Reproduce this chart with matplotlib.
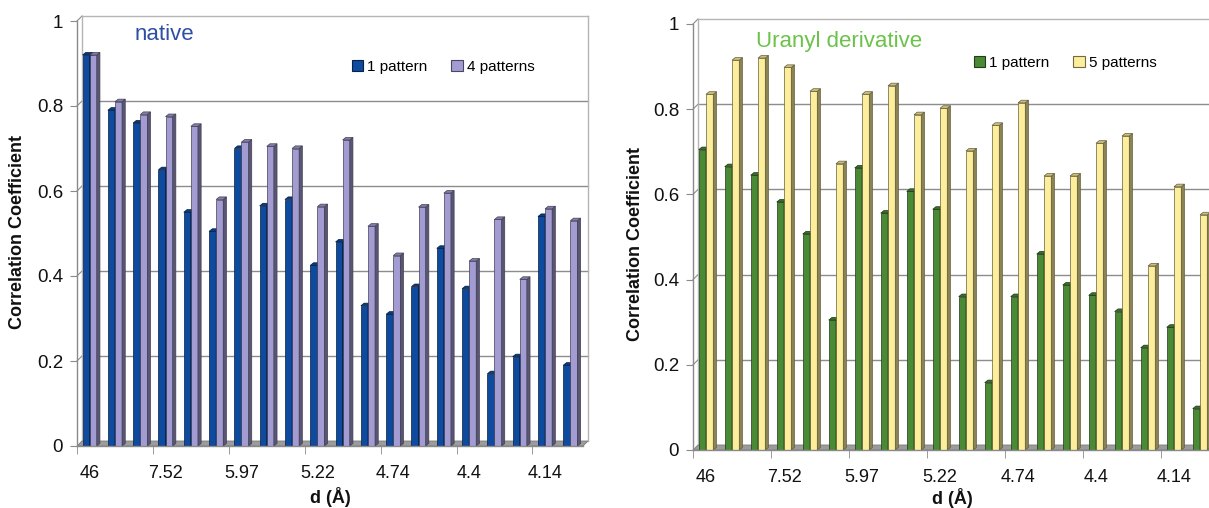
import matplotlib
matplotlib.use("Agg")
import matplotlib.pyplot as plt
from matplotlib.patches import Polygon, Patch

plt.rcParams['font.family'] = ['Liberation Sans', 'DejaVu Sans']

# ---------------- data ----------------
tick_labels = ["46", "7.52", "5.97", "5.22", "4.74", "4.4", "4.14"]
n_cat = 20

native_1 = [0.92, 0.79, 0.76, 0.65, 0.55, 0.505, 0.70, 0.565, 0.58, 0.425,
            0.48, 0.33, 0.31, 0.375, 0.465, 0.37, 0.17, 0.21, 0.54, 0.19]
native_4 = [0.92, 0.81, 0.78, 0.775, 0.752, 0.58, 0.715, 0.705, 0.70, 0.563,
            0.72, 0.517, 0.448, 0.562, 0.595, 0.435, 0.533, 0.392, 0.558, 0.53]

uranyl_1 = [0.705, 0.665, 0.645, 0.582, 0.507, 0.305, 0.662, 0.556, 0.607, 0.565,
            0.36, 0.158, 0.36, 0.46, 0.387, 0.363, 0.325, 0.24, 0.288, 0.097]
uranyl_5 = [0.835, 0.915, 0.92, 0.898, 0.842, 0.672, 0.835, 0.855, 0.787, 0.802,
            0.702, 0.762, 0.815, 0.643, 0.643, 0.72, 0.737, 0.432, 0.618, 0.552]

W, H = 1209, 508
fig = plt.figure(figsize=(W / 100, H / 100), dpi=100)
fig.patch.set_facecolor('white')


def shade(c, f):
    import matplotlib.colors as mc
    r, g, b = mc.to_rgb(c)
    if f < 1:
        return (r * f, g * f, b * f)
    f = f - 1
    return (r + (1 - r) * f, g + (1 - g) * f, b + (1 - b) * f)


def panel(px_left, px_zero, px_cat, px_unit, s1, s2, colors, names,
          title, title_col, title_xy, leg_xy, ylab_xy, xlab_xy, right_frame=True):
    width_px = px_cat * n_cat
    ax = fig.add_axes([px_left / W, (H - px_zero) / H, width_px / W, px_unit / H])
    ax.set_xlim(-0.5, n_cat - 0.5)
    ax.set_ylim(0, 1)
    ax.patch.set_alpha(0)
    for s in ['top', 'right']:
        ax.spines[s].set_visible(False)
    ax.spines['left'].set_color('#8a8a8a')
    ax.spines['bottom'].set_color('#8a8a8a')
    ax.spines['left'].set_linewidth(1.0)
    ax.spines['bottom'].set_linewidth(1.0)

    # depth offsets (data units)
    wdx, wdy = 5 / px_cat, 5 / px_unit      # wall depth
    bdx, bdy = 3.2 / px_cat, 2.6 / px_unit  # bar depth
    x0, x1 = -0.5, n_cat - 0.5

    # back wall grid and frame
    for yv in [0.2, 0.4, 0.6, 0.8]:
        ax.plot([x0 + wdx, x1 + wdx], [yv + wdy, yv + wdy], color='#8c8c8c', lw=1.0,
                clip_on=False, zorder=0.5)
    for yv in [0.2, 0.4, 0.6, 0.8, 1.0]:
        ax.plot([x0, x0 + wdx], [yv, yv + wdy], color='#8c8c8c', lw=0.8,
                clip_on=False, zorder=0.5)
    ax.plot([x0 + wdx, x1 + wdx], [1 + wdy, 1 + wdy], color='#b5b5b5', lw=1.0,
            clip_on=False, zorder=0.5)
    ax.plot([x0 + wdx, x0 + wdx], [wdy, 1 + wdy], color='#b5b5b5', lw=1.0,
            clip_on=False, zorder=0.5)
    if right_frame:
        ax.plot([x1 + wdx, x1 + wdx], [wdy, 1 + wdy], color='#b5b5b5', lw=1.0,
                clip_on=False, zorder=0.5)
    # floor
    ax.add_patch(Polygon([(x0, 0), (x1, 0), (x1 + wdx, wdy), (x0 + wdx, wdy)],
                         closed=True, facecolor='#9c9c9c', edgecolor='#7a7a7a',
                         lw=0.6, clip_on=False, zorder=0.8))

    bw = 0.28
    offs = [-0.14, 0.14]
    xs = list(range(n_cat))
    for xi in xs:
        for si, (series, col) in enumerate(zip((s1, s2), colors)):
            v = series[xi]
            xc = xi + offs[si]
            l, r = xc - bw / 2, xc + bw / 2
            z = 2 + si * 0.1 + xi * 0.001
            edge = shade(col, 0.4)
            ax.bar(xc, v, width=bw, color=col, edgecolor=edge, linewidth=0.5, zorder=z)
            ax.add_patch(Polygon([(r, 0), (r + bdx, bdy), (r + bdx, v + bdy), (r, v)],
                                 closed=True, facecolor=shade(col, 0.55), edgecolor=edge,
                                 lw=0.5, zorder=z, clip_on=False))
            ax.add_patch(Polygon([(l, v), (l + bdx, v + bdy), (r + bdx, v + bdy), (r, v)],
                                 closed=True, facecolor=shade(col, 0.8), edgecolor=edge,
                                 lw=0.5, zorder=z, clip_on=False))

    # ticks
    ax.set_yticks([0, 0.2, 0.4, 0.6, 0.8, 1.0])
    ax.set_yticklabels(["0", "0.2", "0.4", "0.6", "0.8", "1"])
    ax.tick_params(axis='y', length=5, color='#8a8a8a', labelsize=13.5, pad=5,
                   labelcolor='#111111')
    ax.set_xticks(xs[::3])
    ax.set_xticklabels(tick_labels)
    ax.set_xticks([x - 0.5 for x in xs[::3]], minor=True)
    ax.tick_params(axis='x', which='major', length=0, pad=14, labelsize=13,
                   labelcolor='#111111')
    ax.tick_params(axis='x', which='minor', length=6, color='#8a8a8a')

    ax.text(ylab_xy[0], ylab_xy[1], "Correlation Coefficient", rotation=90,
            transform=fig.transFigure, ha='center', va='center', fontsize=13,
            fontweight='bold', color='#111111')
    ax.text(xlab_xy[0], xlab_xy[1], "d (Å)", transform=fig.transFigure,
            ha='center', va='center', fontsize=13, fontweight='bold', color='#111111')
    ax.text(title_xy[0], title_xy[1], title, transform=fig.transFigure,
            ha='left', va='center', fontsize=16, color=title_col)

    handles = [Patch(facecolor=colors[0], edgecolor=shade(colors[0], 0.45), lw=0.8),
               Patch(facecolor=colors[1], edgecolor=shade(colors[1], 0.45), lw=0.8)]
    ax.legend(handles, names, loc='center', bbox_to_anchor=leg_xy,
              bbox_transform=fig.transFigure, ncol=2, frameon=False, fontsize=11,
              handlelength=0.75, handleheight=0.75, handletextpad=0.25,
              columnspacing=1.6, borderaxespad=0)
    return ax


panel(77, 446, 25.3, 425, native_1, native_4, ('#0E4A9E', '#A29CD2'),
      ["1 pattern", "4 patterns"], "native", '#2D4FA6',
      (135 / W, 1 - 35 / H), (443 / W, 1 - 67 / H),
      (18 / W, 1 - 232 / H), (330 / W, 1 - 497 / H))

panel(693, 450, 26.0, 426, uranyl_1, uranyl_5, ('#4A8A35', '#FCEE9A'),
      ["1 pattern", "5 patterns"], "Uranyl derivative", '#6CC24A',
      (756 / W, 1 - 41 / H), (1065 / W, 1 - 63 / H),
      (636 / W, 1 - 244 / H), (952 / W, 1 - 498 / H), right_frame=False)

fig.savefig("out.png", dpi=100, facecolor='white')
